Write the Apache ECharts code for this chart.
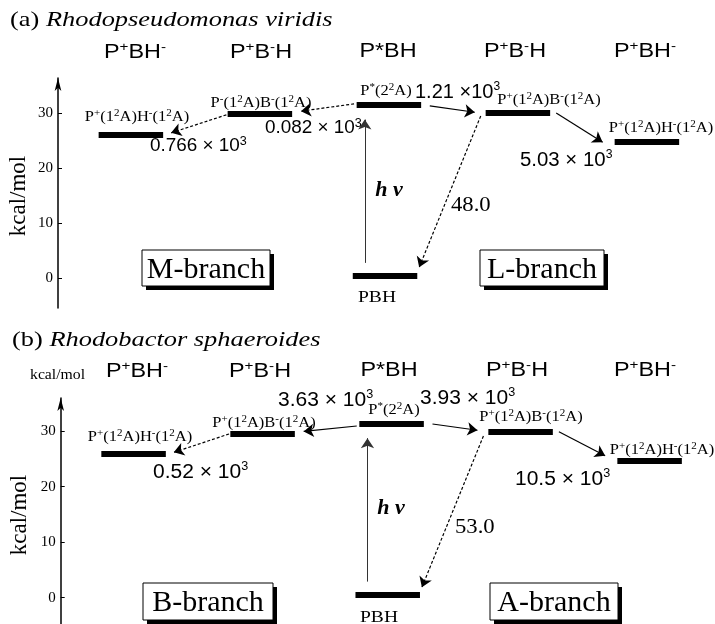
<!DOCTYPE html>
<html><head><meta charset="utf-8">
<script src="https://cdn.jsdelivr.net/npm/echarts@6/dist/echarts.min.js"></script>
<style>html,body{margin:0;padding:0;background:#fff}#c{width:715px;height:624px}</style>
</head><body><div id="c"></div>
<script>
// ---------------- data ----------------
const stateHeaders = ['P^{+}BH^{-}', 'P^{+}B^{-}H', 'P*BH', 'P^{+}B^{-}H', 'P^{+}BH^{-}'];
const stateLabelsA = ['P^{+}(1^{2}A)H^{-}(1^{2}A)', 'P^{-}(1^{2}A)B^{-}(1^{2}A)', 'P^{*}(2^{2}A)', 'P^{+}(1^{2}A)B^{-}(1^{2}A)', 'P^{+}(1^{2}A)H^{-}(1^{2}A)'];
const stateLabelsB = ['P^{+}(1^{2}A)H^{-}(1^{2}A)', 'P^{+}(1^{2}A)B^{-}(1^{2}A)', 'P^{*}(2^{2}A)', 'P^{+}(1^{2}A)B^{-}(1^{2}A)', 'P^{+}(1^{2}A)H^{-}(1^{2}A)'];
const energiesA = [26.05, 29.9, 31.5, 30.1, 24.8];
const groundA = 0.5;
const energiesB = [25.9, 29.6, 31.4, 29.9, 24.6];
const groundB = 0.6;
const transFrom = [1, 2, 2, 3, 3];
const transTo = [0, 1, 3, 4, 'G'];
const transStyleA = ['dashed', 'dashed', 'solid', 'solid', 'dashed'];
const transStyleB = ['dashed', 'solid', 'solid', 'solid', 'dashed'];
const ratesA = ['0.766 × 10^{3}', '0.082 × 10^{3}', '1.21 ×10^{3}', '5.03 × 10^{3}', '48.0'];
const ratesB = ['0.52 × 10^{3}', '3.63 × 10^{3}', '3.93 × 10^{3}', '10.5 × 10^{3}', '53.0'];
const yTicks = [0, 10, 20, 30];
const panelTags = ['(a) ', '(b) '];
const species = ['Rhodopseudomonas viridis', 'Rhodobactor sphaeroides'];
const branchA = ['M-branch', 'L-branch'];
const branchB = ['B-branch', 'A-branch'];
const groundName = 'PBH';
const excitation = 'h ν';
const unitName = 'kcal/mol';

// ---------------- layout ----------------
const SERIF = '"Liberation Serif", "Times New Roman", serif';
const SANS = '"Liberation Sans", Arial, sans-serif';
const HW = 0.25, groundX = 1.97;
const gaps = [[-0.01, 0.025], [-0.02, 0.03], [0.067, -0.046], [0.047, -0.06], [-0.038, 0.0]];
const panels = [
  { left: 58, top: 78, height: 230, yMin: -5.4, yMax: 36.4, pxY: 5.5,
    E: energiesA, G: groundA, styles: transStyleA,
    dys: [[-0.2, 0.1], [0.2, 0.35], [-0.17, -0.05], [-0.05, -0.56], [-0.6, 0.65]],
    rates: ratesA,
    ratePos: [[150, 146, 18, 1.05], [265, 128, 18, 1.05], [415, 92, 20, 1.0], [520, 160, 20, 1.02], [451, 205, 21, 1.08]],
    labels: stateLabelsA,
    labelPos: [[137, 117], [261, 103], [386, 91], [549, 100], [661, 128]],
    headerPos: [[135, 52], [261, 52], [388, 51], [515, 51], [645, 51]],
    title: [10, 20], unitV: [19, 196], hv: [389, 190], pbh: [377, 298],
    boxes: [[142, 250, 128, 36], [480, 250, 124, 36]], branch: branchA },
  { left: 60.7, top: 398, height: 226, yMin: -4.74, yMax: 35.98, pxY: 5.55,
    E: energiesB, G: groundB, styles: transStyleB,
    dys: [[-0.1, 0], [-0.46, 0.26], [-0.1, 0.14], [0, 0.57], [-0.76, 0.43]],
    rates: ratesB,
    ratePos: [[153, 472, 20, 1.05], [278, 400, 20, 1.05], [420, 398, 20, 1.05], [515, 479, 20, 1.05], [455, 527, 21, 1.08]],
    labels: stateLabelsB,
    labelPos: [[140, 437], [264, 423], [394, 410], [531, 417], [662, 450]],
    headerPos: [[137, 371], [260, 371], [389, 370], [517, 370], [645, 370]],
    title: [12, 340], unitV: [20, 515], hv: [391, 508], pbh: [379, 618],
    boxes: [[143, 583, 130, 37], [490, 583, 128, 37]], branch: branchB, smallUnit: [30, 375] }
];

// ---------------- helpers ----------------
function mk(s) { return s.replace(/\^\{([^}]*)\}/g, '{s|$1}'); }
function txt(str, x, y, o) {
  const size = o.size, fam = o.family, sup = o.sup || Math.round(size * 0.65);
  return {
    type: 'text', x: x, y: y, scaleX: o.scaleX || 1, rotation: o.rotation || 0, z: 100, silent: true,
    style: {
      text: mk(str), fill: '#000', fontSize: size, fontFamily: fam,
      fontStyle: o.style || 'normal', fontWeight: o.weight || 'normal',
      lineHeight: size + 2, textAlign: o.align || 'center', textVerticalAlign: 'middle',
      rich: { s: { fontSize: sup, fontFamily: fam, lineHeight: sup, verticalAlign: 'top', fill: '#000', color: '#000' } }
    }
  };
}
function box(label, b) {
  const [x, y, w, h] = b;
  return { type: 'group', x: x, y: y, z: 100, silent: true, children: [
    { type: 'rect', shape: { x: 4, y: 4, width: w, height: h }, style: { fill: '#000' } },
    { type: 'rect', shape: { x: 0, y: 0, width: w, height: h }, style: { fill: '#fff', stroke: '#000', lineWidth: 1 } },
    { type: 'text', x: w / 2, y: h / 2 + 2, style: { text: label, fontSize: 30, fontFamily: SERIF, fill: '#000', textAlign: 'center', textVerticalAlign: 'middle' } }
  ]};
}
function lvX(i) { return i === 'G' ? groundX : i; }
function lvE(p, i) { return i === 'G' ? p.G : p.E[i]; }
// pull an end point back along the segment so the arrow head tip lands on it
function pullBack(x0, y0, x1, y1, pxY, d) {
  const dx = (x1 - x0) * 129, dy = (y1 - y0) * pxY, L = Math.hypot(dx, dy);
  return [x1 - dx / L * d / 129, y1 - dy / L * d / pxY];
}

const series = [], graphics = [];
panels.forEach((p, pi) => {
  // energy levels
  const lv = p.E.map((e, i) => ({ coords: [[i - HW, e], [i + HW, e]] }));
  lv.push({ coords: [[groundX - HW, p.G], [groundX + HW, p.G]] });
  series.push({ type: 'lines', coordinateSystem: 'cartesian2d', xAxisIndex: pi, yAxisIndex: pi, silent: true,
    symbol: ['none', 'none'], lineStyle: { color: '#000', width: 6, opacity: 1 }, data: lv, z: 3 });
  // transitions
  const solid = [], dashed = [];
  transFrom.forEach((f, k) => {
    const t = transTo[k];
    const fx = lvX(f), tx = lvX(t);
    const dir = tx < fx ? -1 : 1;
    const x0 = fx + dir * HW + gaps[k][0];
    const x1 = tx - dir * HW + gaps[k][1];
    const y0 = lvE(p, f) + p.dys[k][0], y1 = lvE(p, t) + p.dys[k][1];
    const end = pullBack(x0, y0, x1, y1, p.pxY, 5);
    (p.styles[k] === 'dashed' ? dashed : solid).push({ coords: [[x0, y0], end] });
  });
  const arrowCommon = { type: 'lines', coordinateSystem: 'cartesian2d', xAxisIndex: pi, yAxisIndex: pi, silent: true,
    symbol: ['none', 'arrow'], symbolSize: [5, 10], z: 4 };
  series.push(Object.assign({}, arrowCommon, { lineStyle: { color: '#000', width: 1.2, opacity: 1 }, data: solid }));
  series.push(Object.assign({}, arrowCommon, { lineStyle: { color: '#000', width: 1.2, opacity: 1, type: [3, 2] }, data: dashed }));
  // excitation arrow
  const hx = 2 - HW + 0.063;
  const hvEnd = pullBack(hx, p.G + 2.3, hx, p.E[2] - 1.75, p.pxY, 5);
  series.push(Object.assign({}, arrowCommon, { lineStyle: { color: '#333', width: 1, opacity: 1 },
    data: [{ coords: [[hx, p.G + 2.3], hvEnd] }] }));

  // texts
  graphics.push({ type: 'text', x: p.title[0], y: p.title[1], scaleX: 1.2, z: 100, silent: true,
    style: { text: panelTags[pi] + '{i|' + species[pi] + '}', fill: '#000', fontSize: 22, fontFamily: SERIF,
      lineHeight: 24, textAlign: 'left', textVerticalAlign: 'middle',
      rich: { i: { fontSize: 22, fontFamily: SERIF, fontStyle: 'italic', lineHeight: 24, fill: '#000' } } } });
  stateHeaders.forEach((h, i) => graphics.push(txt(h, p.headerPos[i][0], p.headerPos[i][1], { size: 20, sup: 13, family: SANS, scaleX: 1.17 })));
  p.labels.forEach((h, i) => graphics.push(txt(h, p.labelPos[i][0], p.labelPos[i][1], { size: 15, sup: 10, family: SERIF, scaleX: 1.1 })));
  p.rates.forEach((r, i) => {
    const rp = p.ratePos[i];
    const serif = i === 4;
    graphics.push(txt(r, rp[0], rp[1], { size: rp[2], sup: 12, family: serif ? SERIF : SANS, scaleX: rp[3], align: 'left' }));
  });
  graphics.push(txt(excitation, p.hv[0], p.hv[1], { size: 22, family: SERIF, style: 'italic', weight: 'bold' }));
  graphics.push(txt(groundName, p.pbh[0], p.pbh[1], { size: 17, family: SERIF, scaleX: 1.15 }));
  graphics.push(txt(unitName, p.unitV[0], p.unitV[1], { size: 23, family: SERIF, rotation: Math.PI / 2 }));
  if (p.smallUnit) graphics.push(txt(unitName, p.smallUnit[0], p.smallUnit[1], { size: 15, family: SERIF, align: 'left', scaleX: 1.05 }));
  p.boxes.forEach((b, i) => graphics.push(box(p.branch[i], b)));
});

const option = {
  animation: false,
  backgroundColor: '#fff',
  grid: panels.map(p => ({ left: p.left, top: p.top, height: p.height, width: 653.4 })),
  xAxis: panels.map((p, i) => ({ gridIndex: i, type: 'value', min: -0.565, max: 4.5, show: false })),
  yAxis: panels.map((p, i) => ({
    gridIndex: i, type: 'value', min: p.yMin, max: p.yMax,
    axisLine: { show: true, onZero: false, symbol: ['none', 'arrow'], symbolSize: [5, 13], lineStyle: { color: '#000', width: 1.5 } },
    axisTick: { show: true, inside: true, length: 4, customValues: yTicks, lineStyle: { color: '#000' } },
    axisLabel: { show: true, customValues: yTicks, margin: 5, fontFamily: SERIF, fontSize: 15, color: '#000' },
    splitLine: { show: false }
  })),
  series: series,
  graphic: { elements: graphics }
};
const chart = echarts.init(document.getElementById('c'));
chart.setOption(option);
</script>
</body></html>
